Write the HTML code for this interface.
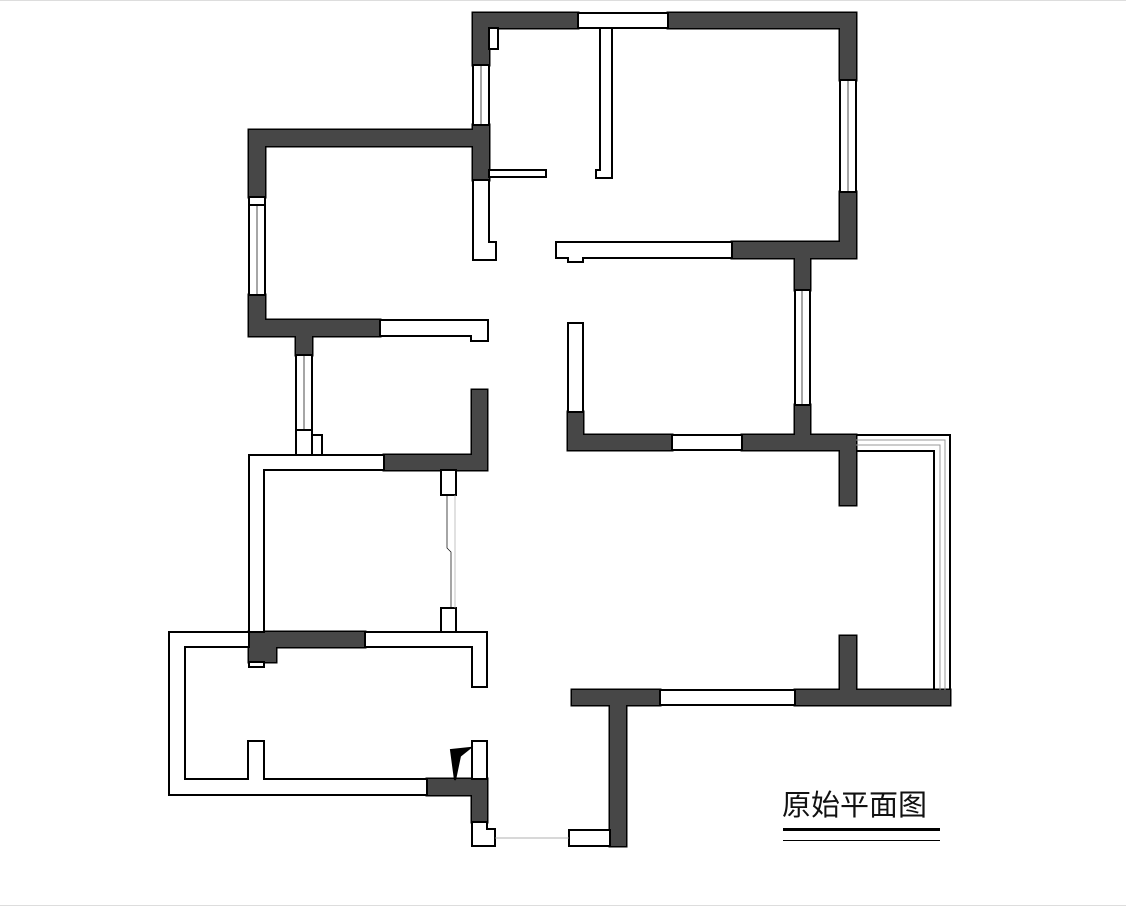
<!DOCTYPE html>
<html><head><meta charset="utf-8"><style>
html,body{margin:0;padding:0;background:#fff;}
svg{display:block;}
</style></head><body>
<svg width="1126" height="906" viewBox="0 0 1126 906" xmlns="http://www.w3.org/2000/svg" xmlns:xlink="http://www.w3.org/1999/xlink">
<line x1="0" y1="0.5" x2="1126" y2="0.5" stroke="#ddd"/>
<line x1="0" y1="905.5" x2="1126" y2="905.5" stroke="#ddd"/>
<defs>
<g id="dk">
<rect x="473" y="13" width="105" height="15"/>
<rect x="668" y="13" width="188" height="15"/>
<rect x="840" y="13" width="16" height="67"/>
<rect x="840" y="192" width="16" height="66"/>
<rect x="732" y="242" width="124" height="16"/>
<rect x="473" y="13" width="16" height="52"/>
<rect x="473" y="125" width="16" height="55"/>
<rect x="249" y="130" width="240" height="16"/>
<rect x="249" y="130" width="16" height="67"/>
<rect x="249" y="295" width="16" height="41"/>
<rect x="249" y="320" width="131" height="16"/>
<rect x="296" y="320" width="16" height="35"/>
<rect x="384" y="455" width="103" height="15"/>
<rect x="472" y="390" width="15" height="80"/>
<rect x="249" y="632" width="116" height="15"/>
<path d="M249 632H276V662H249Z"/>
<rect x="427" y="779" width="60" height="16"/>
<rect x="472" y="779" width="15" height="43"/>
<rect x="610" y="690" width="16" height="156"/>
<rect x="572" y="690" width="88" height="15"/>
<rect x="795" y="690" width="155" height="15"/>
<rect x="840" y="636" width="16" height="69"/>
<rect x="568" y="412" width="15" height="38"/>
<rect x="568" y="435" width="104" height="15"/>
<rect x="742" y="435" width="114" height="15"/>
<rect x="795" y="242" width="15" height="48"/>
<rect x="795" y="405" width="15" height="45"/>
<rect x="840" y="435" width="16" height="70"/>
</g>
</defs>
<use xlink:href="#dk" href="#dk" fill="#474747" stroke="#000" stroke-width="3"/>
<use xlink:href="#dk" href="#dk" fill="#474747" stroke="none"/>
<g stroke="#000" stroke-width="2">
<rect x="578" y="13" width="90" height="15" fill="#fff"/>
<rect x="840" y="80" width="16" height="112" fill="#fff"/>
<path d="M556 242H732V258H583V262H568V258H556Z" fill="#fff"/>
<rect x="473" y="65" width="16" height="60" fill="#fff"/>
<rect x="489" y="28" width="9" height="21" fill="#fff"/>
<path d="M600 28H612V178H596V170H600Z" fill="#fff"/>
<rect x="489" y="170" width="57" height="7" fill="#fff"/>
<path d="M473 180H489V242H496V260H473Z" fill="#fff"/>
<rect x="249" y="197" width="16" height="8" fill="#fff"/>
<rect x="249" y="205" width="16" height="90" fill="#fff"/>
<path d="M380 320H488V341H471V336H380Z" fill="#fff"/>
<rect x="296" y="355" width="16" height="75" fill="#fff"/>
<path d="M296 430H312V455H296Z" fill="#fff"/>
<rect x="312" y="435" width="10" height="20" fill="#fff"/>
<path d="M249 455H384V470H264V632H249Z" fill="#fff"/>
<rect x="441" y="470" width="15" height="25" fill="#fff"/>
<rect x="441" y="608" width="15" height="24" fill="#fff"/>
<path d="M365 632H487V687H472V647H365Z" fill="#fff"/>
<rect x="249" y="662" width="15" height="5" fill="#fff"/>
<path d="M169 632H249V647H185V779H248V741H264V779H427V795H169Z" fill="#fff"/>
<rect x="472" y="741" width="15" height="38" fill="#fff"/>
<path d="M472 822H487V829H495V846H472Z" fill="#fff"/>
<path d="M451 750L470 748L460 756L455 780Z" fill="#000"/>
<rect x="569" y="830" width="41" height="16" fill="#fff"/>
<rect x="660" y="690" width="135" height="15" fill="#fff"/>
<rect x="568" y="323" width="15" height="89" fill="#fff"/>
<rect x="672" y="435" width="70" height="15" fill="#fff"/>
<rect x="795" y="290" width="15" height="115" fill="#fff"/>
</g>
<g stroke="#000" stroke-width="0.7" fill="none">
<line x1="481" y1="66" x2="481" y2="124"/>
<line x1="848" y1="81" x2="848" y2="191"/>
<line x1="257" y1="206" x2="257" y2="294"/>
<line x1="304" y1="356" x2="304" y2="429"/>
<line x1="802" y1="291" x2="802" y2="404"/>
<polyline points="447,495 447,548 451,552 451,608"/>
<line x1="455" y1="495" x2="455" y2="608" stroke="#aaa"/>
<line x1="495" y1="838" x2="569" y2="838" stroke="#999"/>
</g>
<g fill="none">
<polyline points="856,435 950,435 950,690" stroke="#000" stroke-width="2"/>
<polyline points="856,440 945,440 945,690" stroke="#999" stroke-width="1"/>
<polyline points="856,445 940,445 940,690" stroke="#999" stroke-width="1"/>
<polyline points="856,451 934,451 934,690" stroke="#000" stroke-width="2"/>
</g>
<text x="782" y="815" font-family="Liberation Sans, Noto Sans CJK SC, sans-serif" font-size="29" fill="#111">原始平面图</text>
<line x1="783" y1="829.5" x2="940" y2="829.5" stroke="#000" stroke-width="3"/>
<line x1="783" y1="840.5" x2="940" y2="840.5" stroke="#000" stroke-width="1"/>
</svg>
</body></html>
